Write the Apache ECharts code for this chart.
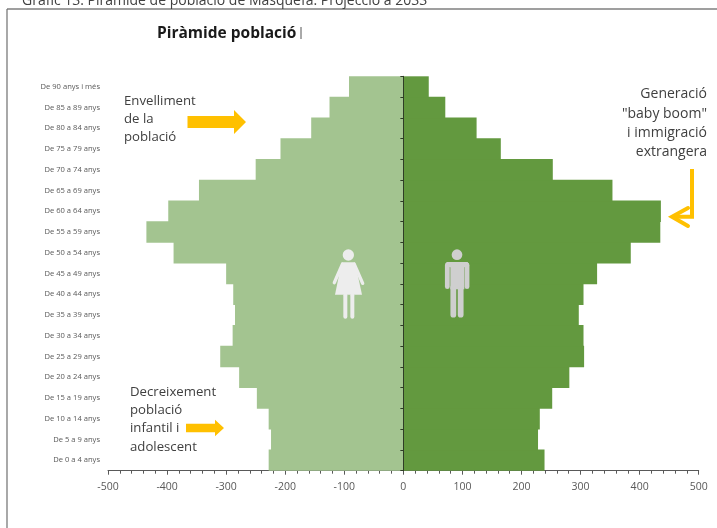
<!DOCTYPE html>
<html>
<head>
<meta charset="utf-8">
<style>html,body{margin:0;padding:0;background:#fff;overflow:hidden}#c{width:717px;height:528px}</style>
<script src="https://cdn.jsdelivr.net/npm/echarts@6/dist/echarts.min.js"></script>
</head>
<body>
<div id="c"></div>
<script>
const categories = ['De 0 a 4 anys','De 5 a 9 anys','De 10 a 14 anys','De 15 a 19 anys','De 20 a 24 anys','De 25 a 29 anys','De 30 a 34 anys','De 35 a 39 anys','De 40 a 44 anys','De 45 a 49 anys','De 50 a 54 anys','De 55 a 59 anys','De 60 a 64 anys','De 65 a 69 anys','De 70 a 74 anys','De 75 a 79 anys','De 80 a 84 anys','De 85 a 89 anys','De 90 anys i més'];
const dones = [-228,-224,-228,-248,-278,-310,-289,-285,-288,-300,-389,-435,-398,-346,-250,-208,-156,-125,-92];
const homes = [239,228,231,252,281,306,305,297,305,328,385,435,436,354,253,165,124,71,43];
const FONT = '"Open Sans", "Noto Sans", sans-serif';
const chart = echarts.init(document.getElementById('c'));

function txt(x, y, lines, align, size, step) {
  return lines.map((s, i) => ({
    type: 'text', x: x, y: y + i * step, z: 20,
    style: { text: s, fill: '#404040', font: size + 'px ' + FONT, textAlign: align || 'left', textVerticalAlign: 'middle' }
  }));
}
function arrow(x0, xh, x1, yc, hs, hh) {
  return { type: 'polygon', z: 20, shape: { points: [[x0, yc - hs], [xh, yc - hs], [xh, yc - hh], [x1, yc], [xh, yc + hh], [xh, yc + hs], [x0, yc + hs]] }, style: { fill: '#FFC000' } };
}
const zx = v => 310 + v / 3, zy = v => 230 + v / 3;
function poly(pts, fill) {
  return { type: 'polygon', z: 20, shape: { points: pts.map(p => [zx(p[0]), zy(p[1])]) }, style: { fill: fill } };
}
function stroke(pts, col, w) {
  return { type: 'polyline', z: 20, shape: { points: pts.map(p => [zx(p[0]), zy(p[1])]) }, style: { stroke: col, lineWidth: w, lineCap: 'round', lineJoin: 'round', fill: null } };
}
function head(x, y, r, col) {
  return { type: 'circle', z: 20, shape: { cx: zx(x), cy: zy(y), r: r / 3 }, style: { fill: col } };
}
const W = '#EDEDED', M = '#CFCFCF';
const graphics = [
  { type: 'line', z: 1, shape: { x1: 7, y1: 9, x2: 717, y2: 9 }, style: { stroke: '#7f7f7f', lineWidth: 1.5 } },
  { type: 'line', z: 1, shape: { x1: 7, y1: 9, x2: 7, y2: 528 }, style: { stroke: '#6f6f6f', lineWidth: 1.2 } },
  { type: 'text', x: 22, y: 8, z: 20, style: { text: 'Gràfic 13. Piràmide de població de Masquefa. Projecció a 2033', fill: '#404040', font: '14px ' + FONT, textVerticalAlign: 'bottom' } },
  { type: 'line', z: 20, shape: { x1: 301, y1: 27, x2: 301, y2: 39 }, style: { stroke: '#555', lineWidth: 1 } },
  ...txt(124, 101, ['Envelliment', 'de la', 'població'], 'left', 13.2, 18.3),
  ...txt(130, 392, ['Decreixement', 'població', 'infantil i', 'adolescent'], 'left', 13.2, 18.3),
  ...txt(707, 94.5, ['Generació', '"baby boom"', 'i immigració', 'extrangera'], 'right', 14, 19.3),
  arrow(187.5, 234, 246, 122, 6, 12),
  arrow(186, 215, 224, 428, 4.3, 8.3),
  { type: 'polyline', z: 20, shape: { points: [[692, 169], [692, 216.7], [673, 216.7]] }, style: { stroke: '#FFC000', lineWidth: 4, fill: null } },
  { type: 'polyline', z: 20, shape: { points: [[688, 208], [672, 216.7], [688, 226]] }, style: { stroke: '#FFC000', lineWidth: 4, lineCap: 'round', fill: null } },
  // dona
  head(115, 75, 17, W),
  poly([[95, 97], [135, 97], [156, 194], [75, 194]], W),
  stroke([[97, 103], [73, 158]], W, 3.4),
  stroke([[133, 103], [158, 160]], W, 3.4),
  stroke([[106, 196], [106, 260]], W, 4),
  stroke([[127, 196], [127, 260]], W, 4),
  // home
  head(441, 74, 16, M),
  stroke([[412, 105], [412, 170]], M, 4.8),
  stroke([[471, 105], [471, 170]], M, 4.8),
  poly([[410, 96], [473, 96], [478, 108], [463, 112], [463, 178], [421, 178], [421, 112], [405, 108]], M),
  stroke([[430, 172], [430, 254]], M, 5.8),
  stroke([[452, 172], [452, 254]], M, 5.8)
];

chart.setOption({
  animation: false,
  backgroundColor: '#fff',
  title: { text: 'Piràmide població', left: 157, top: 23, padding: 0, textStyle: { fontFamily: FONT, fontWeight: 'bold', fontSize: 15.5, lineHeight: 22, color: '#1a1a1a' } },
  grid: { left: 108, right: 18.3, top: 76.3, bottom: 57.3, containLabel: false, outerBoundsMode: 'none' },
  xAxis: {
    type: 'value', min: -500, max: 500, interval: 100,
    splitLine: { show: false },
    axisLine: { show: true, lineStyle: { color: '#595959', width: 1 } },
    axisTick: { show: true, length: 4, lineStyle: { color: '#595959' } },
    minorTick: { show: true, splitNumber: 5, length: 3, lineStyle: { color: '#595959' } },
    axisLabel: { fontFamily: FONT, fontSize: 10.5, color: '#595959', margin: 11 }
  },
  yAxis: [
    {
      type: 'category', data: categories, z: 5,
      axisLine: { show: true, onZero: true, lineStyle: { color: '#2f3d26', width: 1 } },
      axisTick: { show: true, length: 3, inside: false, lineStyle: { color: '#2f3d26' } },
      axisLabel: { show: false }
    },
    {
      type: 'category', data: categories, position: 'left', z: 5,
      axisLine: { show: false, onZero: false },
      axisTick: { show: false },
      axisLabel: { show: true, fontFamily: FONT, fontSize: 7.6, color: '#595959', margin: 8, interval: 0 }
    }
  ],
  series: [
    { name: 'Dones', type: 'bar', data: dones, barGap: '-100%', barWidth: 21.6, itemStyle: { color: '#A3C490' } },
    { name: 'Homes', type: 'bar', data: homes, barGap: '-100%', barWidth: 21.6, itemStyle: { color: '#63993F' } }
  ],
  graphic: { elements: graphics }
});
</script>
</body>
</html>
